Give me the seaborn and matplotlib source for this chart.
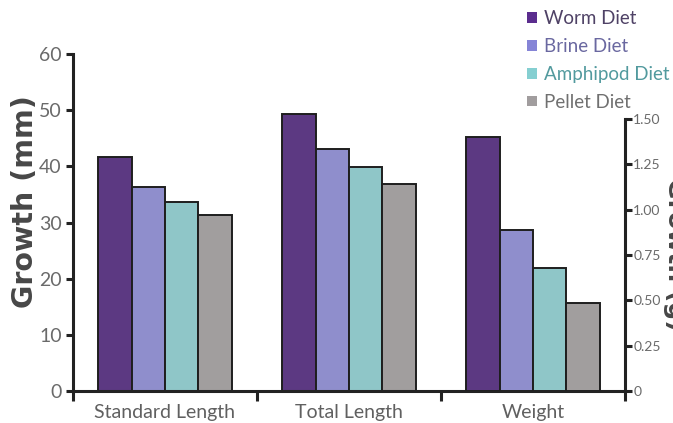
import matplotlib
matplotlib.use("Agg")
import matplotlib.pyplot as plt
import seaborn as sns
import pandas as pd
from matplotlib.patches import Patch

categories = ["Standard Length", "Total Length", "Weight"]
diets = ["Worm Diet", "Brine Diet", "Amphipod Diet", "Pellet Diet"]
standard_length_mm = [41.6, 36.4, 33.6, 31.3]
total_length_mm = [49.3, 43.1, 39.8, 36.9]
weight_g = [1.40, 0.89, 0.68, 0.485]
left_ticks = [0, 10, 20, 30, 40, 50, 60]
right_ticks = [0, 0.25, 0.50, 0.75, 1.00, 1.25, 1.50]
right_tick_labels = ["0", "0.25", "0.50", "0.75", "1.00", "1.25", "1.50"]
bar_colors = ["#5b2d8e", "#8584d6", "#85cfd1", "#a19d9e"]
legend_text_colors = ["#4f4266", "#6a68a0", "#529a9e", "#707070"]

length_df = pd.DataFrame({
    "measure": [categories[0]] * 4 + [categories[1]] * 4,
    "diet": diets + diets,
    "value": standard_length_mm + total_length_mm,
})
weight_df = pd.DataFrame({
    "measure": [categories[2]] * 4,
    "diet": diets,
    "value": weight_g,
})
palette = dict(zip(diets, bar_colors))

sns.set_theme(style="white")
plt.rcParams['font.family'] = ['Lato', 'DejaVu Sans']

W, H = 673, 423
fig = plt.figure(figsize=(W / 100, H / 100), dpi=100)
x0, x1, y0, y60 = 73, 625, 391, 54
ax = fig.add_axes([x0 / W, 1 - y0 / H, (x1 - x0) / W, (y0 - y60) / H])

edge = "#1e1e1e"
sns.barplot(data=length_df, x="measure", y="value", hue="diet",
            order=categories, hue_order=diets, palette=palette,
            width=0.725, edgecolor=edge, linewidth=1.4, ax=ax, legend=False)
ax2 = ax.twinx()
sns.barplot(data=weight_df, x="measure", y="value", hue="diet",
            order=categories, hue_order=diets, palette=palette,
            width=0.725, edgecolor=edge, linewidth=1.4, ax=ax2, legend=False)

ax.set_xlim(-0.5, 2.5)
ax.set_ylim(0, 60)
ax2.set_ylim(0, 1.5 * (y0 - y60) / 272)

spine_c = "#222222"
for s in ["top", "right"]:
    ax.spines[s].set_visible(False)
for s in ["top", "left", "bottom"]:
    ax2.spines[s].set_visible(False)
for s in ["left", "bottom"]:
    ax.spines[s].set_linewidth(2.2)
    ax.spines[s].set_color(spine_c)
ax2.spines["right"].set_linewidth(2.2)
ax2.spines["right"].set_color(spine_c)
ax2.spines["right"].set_bounds(0, 1.5)

tick_c = "#606060"
# x axis: boundary ticks, labels at centres
ax.set_xticks([-0.5, 0.5, 1.5, 2.5])
ax.set_xticklabels([])
ax.set_xticks([0, 1, 2], minor=True)
ax.set_xticklabels(categories, minor=True)
ax.tick_params(axis="x", which="major", direction="out", length=7, width=2.2,
               color=spine_c, bottom=True)
ax.tick_params(axis="x", which="minor", length=0, pad=9, labelsize=14,
               labelcolor=tick_c, bottom=True)
ax.set_xlabel("")

ax.set_yticks(left_ticks)
ax.set_yticklabels([str(t) for t in left_ticks])
ax.tick_params(axis="y", direction="out", length=5, width=2.2, color=spine_c,
               labelsize=14, labelcolor="#6a6a6a", pad=3, left=True)
ax.set_ylabel("")
fig.text(25 / W, 1 - 202 / H, "Growth (mm)", rotation=90, ha="center",
         va="center", fontsize=20.5, fontweight="bold", color="#474747",
         family=["DejaVu Sans"])

ax2.set_yticks(right_ticks)
ax2.set_yticklabels(right_tick_labels)
ax2.tick_params(axis="y", direction="out", length=5, width=2.2, color=spine_c,
                labelsize=10, labelcolor="#6a6a6a", pad=1, right=True)
ax2.set_ylabel("")
ax2.set_xlabel("")
fig.text(675 / W, 1 - 254 / H, "Growth (g)", rotation=270, ha="center",
         va="center", fontsize=18, fontweight="bold", color="#474747",
         family=["DejaVu Sans"])

handles = [Patch(facecolor=c, edgecolor="none") for c in bar_colors]
leg = fig.legend(handles, diets, loc="upper left",
                 bbox_to_anchor=(514 / W, 1 + 3 / H), frameon=False,
                 fontsize=13.5, handlelength=0.5, handleheight=0.5,
                 handletextpad=0.4, labelspacing=0.58, borderpad=0.2)
for t, c in zip(leg.get_texts(), legend_text_colors):
    t.set_color(c)

fig.savefig("out.png", dpi=100)
